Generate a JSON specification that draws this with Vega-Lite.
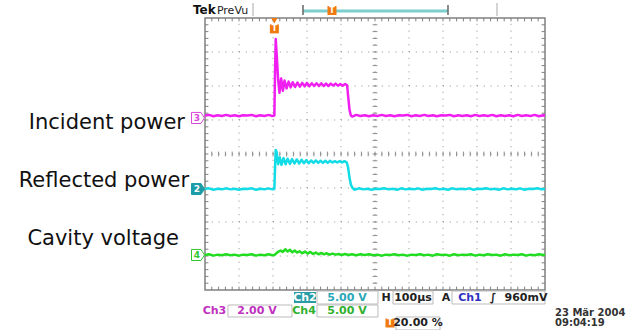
{
  "$schema": "https://vega.github.io/schema/vega-lite/v6.json",
  "width": 340,
  "height": 272,
  "autosize": {"type": "none"},
  "padding": {"left": 205, "top": 18, "right": 90, "bottom": 40},
  "background": "white",
  "config": {"view": {"stroke": "#808080", "strokeWidth": 1.5}, "text": {"font": "DejaVu Sans"}},
  "datasets": {
    "majx": [{"t":1},{"t":2},{"t":3},{"t":4},{"t":5},{"t":6},{"t":7},{"t":8},{"t":9}],
    "majy": [{"v":-3},{"v":-2},{"v":-1},{"v":0},{"v":1},{"v":2},{"v":3}],
    "mx": [{"t":0.2},{"t":0.4},{"t":0.6},{"t":0.8},{"t":1},{"t":1.2},{"t":1.4},{"t":1.6},{"t":1.8},{"t":2},{"t":2.2},{"t":2.4},{"t":2.6},{"t":2.8},{"t":3},{"t":3.2},{"t":3.4},{"t":3.6},{"t":3.8},{"t":4},{"t":4.2},{"t":4.4},{"t":4.6},{"t":4.8},{"t":5},{"t":5.2},{"t":5.4},{"t":5.6},{"t":5.8},{"t":6},{"t":6.2},{"t":6.4},{"t":6.6},{"t":6.8},{"t":7},{"t":7.2},{"t":7.4},{"t":7.6},{"t":7.8},{"t":8},{"t":8.2},{"t":8.4},{"t":8.6},{"t":8.8},{"t":9},{"t":9.2},{"t":9.4},{"t":9.6},{"t":9.8}],
    "my": [{"v":-3.8},{"v":-3.6},{"v":-3.4},{"v":-3.2},{"v":-3},{"v":-2.8},{"v":-2.6},{"v":-2.4},{"v":-2.2},{"v":-2},{"v":-1.8},{"v":-1.6},{"v":-1.4},{"v":-1.2},{"v":-1},{"v":-0.8},{"v":-0.6},{"v":-0.4},{"v":-0.2},{"v":0},{"v":0.2},{"v":0.4},{"v":0.6},{"v":0.8},{"v":1},{"v":1.2},{"v":1.4},{"v":1.6},{"v":1.8},{"v":2},{"v":2.2},{"v":2.4},{"v":2.6},{"v":2.8},{"v":3},{"v":3.2},{"v":3.4},{"v":3.6},{"v":3.8}],
    "trace": [
      {"ch":"I","t":0,"v":1.13},{"ch":"I","t":0.12,"v":1.15},{"ch":"I","t":0.25,"v":1.11},{"ch":"I","t":0.37,"v":1.14},{"ch":"I","t":0.5,"v":1.12},{"ch":"I","t":0.62,"v":1.15},{"ch":"I","t":0.75,"v":1.12},{"ch":"I","t":0.87,"v":1.14},{"ch":"I","t":1.0,"v":1.11},{"ch":"I","t":1.12,"v":1.14},{"ch":"I","t":1.25,"v":1.13},{"ch":"I","t":1.37,"v":1.15},{"ch":"I","t":1.5,"v":1.11},{"ch":"I","t":1.62,"v":1.14},{"ch":"I","t":1.75,"v":1.12},{"ch":"I","t":1.87,"v":1.15},{"ch":"I","t":1.98,"v":1.12},{"ch":"I","t":2.04,"v":1.13},{"ch":"I","t":2.06,"v":2.4},{"ch":"I","t":2.08,"v":3.38},{"ch":"I","t":2.11,"v":2.9},{"ch":"I","t":2.15,"v":2.2},{"ch":"I","t":2.19,"v":1.8},{"ch":"I","t":2.24,"v":2.22},{"ch":"I","t":2.29,"v":1.86},{"ch":"I","t":2.34,"v":2.16},{"ch":"I","t":2.4,"v":1.93},{"ch":"I","t":2.46,"v":2.13},{"ch":"I","t":2.52,"v":1.96},{"ch":"I","t":2.58,"v":2.11},{"ch":"I","t":2.65,"v":1.97},{"ch":"I","t":2.72,"v":2.1},{"ch":"I","t":2.79,"v":1.98},{"ch":"I","t":2.86,"v":2.09},{"ch":"I","t":2.93,"v":1.99},{"ch":"I","t":3.0,"v":2.09},{"ch":"I","t":3.07,"v":1.99},{"ch":"I","t":3.14,"v":2.08},{"ch":"I","t":3.21,"v":2.0},{"ch":"I","t":3.28,"v":2.08},{"ch":"I","t":3.35,"v":2.0},{"ch":"I","t":3.42,"v":2.08},{"ch":"I","t":3.49,"v":2.0},{"ch":"I","t":3.56,"v":2.07},{"ch":"I","t":3.63,"v":2.0},{"ch":"I","t":3.7,"v":2.07},{"ch":"I","t":3.77,"v":2.01},{"ch":"I","t":3.84,"v":2.07},{"ch":"I","t":3.91,"v":2.01},{"ch":"I","t":3.98,"v":2.06},{"ch":"I","t":4.05,"v":2.01},{"ch":"I","t":4.12,"v":2.06},{"ch":"I","t":4.18,"v":2.02},{"ch":"I","t":4.21,"v":1.7},{"ch":"I","t":4.25,"v":1.3},{"ch":"I","t":4.29,"v":1.13},{"ch":"I","t":4.33,"v":1.1},{"ch":"I","t":4.45,"v":1.15},{"ch":"I","t":4.57,"v":1.12},{"ch":"I","t":4.7,"v":1.14},{"ch":"I","t":4.82,"v":1.11},{"ch":"I","t":4.95,"v":1.14},{"ch":"I","t":5.07,"v":1.12},{"ch":"I","t":5.2,"v":1.15},{"ch":"I","t":5.32,"v":1.12},{"ch":"I","t":5.45,"v":1.14},{"ch":"I","t":5.57,"v":1.11},{"ch":"I","t":5.7,"v":1.14},{"ch":"I","t":5.82,"v":1.13},{"ch":"I","t":5.95,"v":1.15},{"ch":"I","t":6.07,"v":1.11},{"ch":"I","t":6.2,"v":1.14},{"ch":"I","t":6.32,"v":1.12},{"ch":"I","t":6.45,"v":1.15},{"ch":"I","t":6.57,"v":1.12},{"ch":"I","t":6.7,"v":1.14},{"ch":"I","t":6.82,"v":1.11},{"ch":"I","t":6.95,"v":1.14},{"ch":"I","t":7.07,"v":1.13},{"ch":"I","t":7.2,"v":1.15},{"ch":"I","t":7.32,"v":1.11},{"ch":"I","t":7.45,"v":1.14},{"ch":"I","t":7.57,"v":1.12},{"ch":"I","t":7.7,"v":1.14},{"ch":"I","t":7.82,"v":1.11},{"ch":"I","t":7.95,"v":1.15},{"ch":"I","t":8.07,"v":1.12},{"ch":"I","t":8.2,"v":1.14},{"ch":"I","t":8.32,"v":1.12},{"ch":"I","t":8.45,"v":1.15},{"ch":"I","t":8.57,"v":1.11},{"ch":"I","t":8.7,"v":1.14},{"ch":"I","t":8.82,"v":1.12},{"ch":"I","t":8.95,"v":1.14},{"ch":"I","t":9.07,"v":1.11},{"ch":"I","t":9.2,"v":1.15},{"ch":"I","t":9.32,"v":1.12},{"ch":"I","t":9.45,"v":1.14},{"ch":"I","t":9.57,"v":1.12},{"ch":"I","t":9.7,"v":1.15},{"ch":"I","t":9.82,"v":1.11},{"ch":"I","t":9.95,"v":1.14},{"ch":"I","t":10,"v":1.13},
      {"ch":"R","t":0,"v":-1.03},{"ch":"R","t":0.12,"v":-1.01},{"ch":"R","t":0.25,"v":-1.05},{"ch":"R","t":0.37,"v":-1.02},{"ch":"R","t":0.5,"v":-1.04},{"ch":"R","t":0.62,"v":-1.01},{"ch":"R","t":0.75,"v":-1.04},{"ch":"R","t":0.87,"v":-1.02},{"ch":"R","t":1.0,"v":-1.05},{"ch":"R","t":1.12,"v":-1.02},{"ch":"R","t":1.25,"v":-1.03},{"ch":"R","t":1.37,"v":-1.01},{"ch":"R","t":1.5,"v":-1.05},{"ch":"R","t":1.62,"v":-1.02},{"ch":"R","t":1.75,"v":-1.04},{"ch":"R","t":1.87,"v":-1.01},{"ch":"R","t":1.98,"v":-1.04},{"ch":"R","t":2.04,"v":-1.03},{"ch":"R","t":2.06,"v":-0.4},{"ch":"R","t":2.08,"v":0.12},{"ch":"R","t":2.11,"v":0.05},{"ch":"R","t":2.15,"v":-0.3},{"ch":"R","t":2.2,"v":-0.1},{"ch":"R","t":2.25,"v":-0.32},{"ch":"R","t":2.31,"v":-0.12},{"ch":"R","t":2.37,"v":-0.3},{"ch":"R","t":2.43,"v":-0.14},{"ch":"R","t":2.5,"v":-0.29},{"ch":"R","t":2.56,"v":-0.15},{"ch":"R","t":2.63,"v":-0.28},{"ch":"R","t":2.7,"v":-0.16},{"ch":"R","t":2.77,"v":-0.28},{"ch":"R","t":2.84,"v":-0.17},{"ch":"R","t":2.91,"v":-0.27},{"ch":"R","t":2.98,"v":-0.18},{"ch":"R","t":3.05,"v":-0.27},{"ch":"R","t":3.12,"v":-0.19},{"ch":"R","t":3.19,"v":-0.26},{"ch":"R","t":3.26,"v":-0.19},{"ch":"R","t":3.33,"v":-0.26},{"ch":"R","t":3.4,"v":-0.2},{"ch":"R","t":3.47,"v":-0.26},{"ch":"R","t":3.54,"v":-0.2},{"ch":"R","t":3.61,"v":-0.26},{"ch":"R","t":3.68,"v":-0.2},{"ch":"R","t":3.75,"v":-0.25},{"ch":"R","t":3.82,"v":-0.21},{"ch":"R","t":3.89,"v":-0.25},{"ch":"R","t":3.96,"v":-0.21},{"ch":"R","t":4.03,"v":-0.25},{"ch":"R","t":4.1,"v":-0.21},{"ch":"R","t":4.17,"v":-0.25},{"ch":"R","t":4.21,"v":-0.4},{"ch":"R","t":4.25,"v":-0.7},{"ch":"R","t":4.29,"v":-0.9},{"ch":"R","t":4.34,"v":-1.0},{"ch":"R","t":4.4,"v":-1.05},{"ch":"R","t":4.52,"v":-1.01},{"ch":"R","t":4.65,"v":-1.04},{"ch":"R","t":4.77,"v":-1.02},{"ch":"R","t":4.9,"v":-1.05},{"ch":"R","t":5.02,"v":-1.02},{"ch":"R","t":5.15,"v":-1.03},{"ch":"R","t":5.27,"v":-1.01},{"ch":"R","t":5.4,"v":-1.04},{"ch":"R","t":5.52,"v":-1.02},{"ch":"R","t":5.65,"v":-1.05},{"ch":"R","t":5.77,"v":-1.01},{"ch":"R","t":5.9,"v":-1.04},{"ch":"R","t":6.02,"v":-1.02},{"ch":"R","t":6.15,"v":-1.04},{"ch":"R","t":6.27,"v":-1.01},{"ch":"R","t":6.4,"v":-1.05},{"ch":"R","t":6.52,"v":-1.02},{"ch":"R","t":6.65,"v":-1.03},{"ch":"R","t":6.77,"v":-1.01},{"ch":"R","t":6.9,"v":-1.04},{"ch":"R","t":7.02,"v":-1.02},{"ch":"R","t":7.15,"v":-1.05},{"ch":"R","t":7.27,"v":-1.01},{"ch":"R","t":7.4,"v":-1.04},{"ch":"R","t":7.52,"v":-1.02},{"ch":"R","t":7.65,"v":-1.04},{"ch":"R","t":7.77,"v":-1.01},{"ch":"R","t":7.9,"v":-1.05},{"ch":"R","t":8.02,"v":-1.02},{"ch":"R","t":8.15,"v":-1.03},{"ch":"R","t":8.27,"v":-1.01},{"ch":"R","t":8.4,"v":-1.04},{"ch":"R","t":8.52,"v":-1.02},{"ch":"R","t":8.65,"v":-1.05},{"ch":"R","t":8.77,"v":-1.01},{"ch":"R","t":8.9,"v":-1.04},{"ch":"R","t":9.02,"v":-1.02},{"ch":"R","t":9.15,"v":-1.04},{"ch":"R","t":9.27,"v":-1.01},{"ch":"R","t":9.4,"v":-1.05},{"ch":"R","t":9.52,"v":-1.02},{"ch":"R","t":9.65,"v":-1.03},{"ch":"R","t":9.77,"v":-1.01},{"ch":"R","t":9.9,"v":-1.04},{"ch":"R","t":10,"v":-1.03},
      {"ch":"C","t":0,"v":-2.97},{"ch":"C","t":0.12,"v":-2.95},{"ch":"C","t":0.25,"v":-2.99},{"ch":"C","t":0.37,"v":-2.96},{"ch":"C","t":0.5,"v":-2.98},{"ch":"C","t":0.62,"v":-2.95},{"ch":"C","t":0.75,"v":-2.98},{"ch":"C","t":0.87,"v":-2.96},{"ch":"C","t":1.0,"v":-2.99},{"ch":"C","t":1.12,"v":-2.96},{"ch":"C","t":1.25,"v":-2.97},{"ch":"C","t":1.37,"v":-2.95},{"ch":"C","t":1.5,"v":-2.99},{"ch":"C","t":1.62,"v":-2.96},{"ch":"C","t":1.75,"v":-2.98},{"ch":"C","t":1.87,"v":-2.95},{"ch":"C","t":1.98,"v":-2.98},{"ch":"C","t":2.04,"v":-2.97},{"ch":"C","t":2.1,"v":-2.92},{"ch":"C","t":2.16,"v":-2.87},{"ch":"C","t":2.22,"v":-2.84},{"ch":"C","t":2.29,"v":-2.88},{"ch":"C","t":2.36,"v":-2.8},{"ch":"C","t":2.43,"v":-2.87},{"ch":"C","t":2.5,"v":-2.82},{"ch":"C","t":2.57,"v":-2.89},{"ch":"C","t":2.64,"v":-2.84},{"ch":"C","t":2.71,"v":-2.9},{"ch":"C","t":2.78,"v":-2.86},{"ch":"C","t":2.86,"v":-2.92},{"ch":"C","t":2.94,"v":-2.87},{"ch":"C","t":3.02,"v":-2.93},{"ch":"C","t":3.1,"v":-2.88},{"ch":"C","t":3.18,"v":-2.94},{"ch":"C","t":3.26,"v":-2.9},{"ch":"C","t":3.34,"v":-2.95},{"ch":"C","t":3.42,"v":-2.91},{"ch":"C","t":3.5,"v":-2.95},{"ch":"C","t":3.58,"v":-2.92},{"ch":"C","t":3.66,"v":-2.96},{"ch":"C","t":3.75,"v":-2.93},{"ch":"C","t":3.84,"v":-2.96},{"ch":"C","t":3.93,"v":-2.94},{"ch":"C","t":4.02,"v":-2.97},{"ch":"C","t":4.12,"v":-2.94},{"ch":"C","t":4.22,"v":-2.97},{"ch":"C","t":4.32,"v":-2.95},{"ch":"C","t":4.45,"v":-2.98},{"ch":"C","t":4.57,"v":-2.95},{"ch":"C","t":4.7,"v":-2.97},{"ch":"C","t":4.82,"v":-2.95},{"ch":"C","t":4.95,"v":-2.98},{"ch":"C","t":5.07,"v":-2.96},{"ch":"C","t":5.2,"v":-2.99},{"ch":"C","t":5.32,"v":-2.96},{"ch":"C","t":5.45,"v":-2.97},{"ch":"C","t":5.57,"v":-2.95},{"ch":"C","t":5.7,"v":-2.98},{"ch":"C","t":5.82,"v":-2.96},{"ch":"C","t":5.95,"v":-2.99},{"ch":"C","t":6.07,"v":-2.96},{"ch":"C","t":6.2,"v":-2.97},{"ch":"C","t":6.32,"v":-2.95},{"ch":"C","t":6.45,"v":-2.98},{"ch":"C","t":6.57,"v":-2.96},{"ch":"C","t":6.7,"v":-2.99},{"ch":"C","t":6.82,"v":-2.95},{"ch":"C","t":6.95,"v":-2.97},{"ch":"C","t":7.07,"v":-2.96},{"ch":"C","t":7.2,"v":-2.99},{"ch":"C","t":7.32,"v":-2.95},{"ch":"C","t":7.45,"v":-2.98},{"ch":"C","t":7.57,"v":-2.96},{"ch":"C","t":7.7,"v":-2.97},{"ch":"C","t":7.82,"v":-2.95},{"ch":"C","t":7.95,"v":-2.99},{"ch":"C","t":8.07,"v":-2.96},{"ch":"C","t":8.2,"v":-2.98},{"ch":"C","t":8.32,"v":-2.95},{"ch":"C","t":8.45,"v":-2.97},{"ch":"C","t":8.57,"v":-2.96},{"ch":"C","t":8.7,"v":-2.99},{"ch":"C","t":8.82,"v":-2.95},{"ch":"C","t":8.95,"v":-2.98},{"ch":"C","t":9.07,"v":-2.96},{"ch":"C","t":9.2,"v":-2.97},{"ch":"C","t":9.32,"v":-2.95},{"ch":"C","t":9.45,"v":-2.99},{"ch":"C","t":9.57,"v":-2.96},{"ch":"C","t":9.7,"v":-2.98},{"ch":"C","t":9.82,"v":-2.95},{"ch":"C","t":9.95,"v":-2.97},{"ch":"C","t":10,"v":-2.96}
    ]
  },
  "layer": [
    {"data": {"name": "majx"}, "mark": {"type": "rule", "color": "#8c8c8c", "strokeWidth": 1, "strokeDash": [1, 5.8]},
     "encoding": {"x": {"field": "t", "type": "quantitative", "axis": null, "scale": {"domain": [0, 10], "nice": false, "zero": false}},
                  "y": {"datum": -4, "type": "quantitative", "axis": null, "scale": {"domain": [-4, 4], "nice": false, "zero": false}}, "y2": {"datum": 4}}},
    {"data": {"name": "majy"}, "mark": {"type": "rule", "color": "#8c8c8c", "strokeWidth": 1, "strokeDash": [1, 5.8]},
     "encoding": {"x": {"datum": 0, "type": "quantitative", "axis": null}, "x2": {"datum": 10}, "y": {"field": "v", "type": "quantitative", "axis": null}}},
    {"data": {"name": "mx"}, "mark": {"type": "rule", "color": "#808080", "strokeWidth": 1},
     "encoding": {"x": {"field": "t", "type": "quantitative", "axis": null}, "y": {"datum": -4, "type": "quantitative", "axis": null}, "y2": {"datum": -3.9}}},
    {"data": {"name": "mx"}, "mark": {"type": "rule", "color": "#808080", "strokeWidth": 1},
     "encoding": {"x": {"field": "t", "type": "quantitative", "axis": null}, "y": {"datum": 4, "type": "quantitative", "axis": null}, "y2": {"datum": 3.9}}},
    {"data": {"name": "my"}, "mark": {"type": "rule", "color": "#808080", "strokeWidth": 1},
     "encoding": {"y": {"field": "v", "type": "quantitative", "axis": null}, "x": {"datum": 0, "type": "quantitative", "axis": null}, "x2": {"datum": 0.1}}},
    {"data": {"name": "my"}, "mark": {"type": "rule", "color": "#808080", "strokeWidth": 1},
     "encoding": {"y": {"field": "v", "type": "quantitative", "axis": null}, "x": {"datum": 10, "type": "quantitative", "axis": null}, "x2": {"datum": 9.9}}},
    {"data": {"name": "mx"}, "mark": {"type": "rule", "color": "#8c8c8c", "strokeWidth": 1},
     "encoding": {"x": {"field": "t", "type": "quantitative", "axis": null}, "y": {"datum": -0.07, "type": "quantitative", "axis": null}, "y2": {"datum": 0.07}}},
    {"data": {"name": "my"}, "mark": {"type": "rule", "color": "#8c8c8c", "strokeWidth": 1},
     "encoding": {"y": {"field": "v", "type": "quantitative", "axis": null}, "x": {"datum": 4.93, "type": "quantitative", "axis": null}, "x2": {"datum": 5.07}}},
    {"data": {"name": "trace"}, "mark": {"type": "line", "strokeWidth": 2.5, "strokeJoin": "round"},
     "encoding": {"x": {"field": "t", "type": "quantitative", "axis": null, "scale": {"domain": [0, 10], "nice": false, "zero": false}},
                  "y": {"field": "v", "type": "quantitative", "axis": null, "scale": {"domain": [-4, 4], "nice": false, "zero": false}},
                  "color": {"field": "ch", "type": "nominal", "scale": {"domain": ["I", "R", "C"], "range": ["#f01ef0", "#12dce6", "#22dc22"]}, "legend": null}}},
    {"data": {"values": [{"t": -0.206, "v": 1.06, "c": "I"}, {"t": -0.206, "v": -2.97, "c": "C"}]}, "mark": {"type": "point", "shape": "M-1,-0.85L0.45,-0.85L1,0L0.45,0.85L-1,0.85Z", "size": 169, "filled": false, "fill": "white", "strokeWidth": 1, "opacity": 1},
     "encoding": {"x": {"field": "t", "type": "quantitative", "axis": null}, "y": {"field": "v", "type": "quantitative", "axis": null},
                  "stroke": {"field": "c", "type": "nominal", "scale": {"domain": ["I", "C"], "range": ["#d848d8", "#30c830"]}, "legend": null}}},
    {"data": {"values": [{"t": -0.206, "v": -1.03}]}, "mark": {"type": "point", "shape": "M-1,-0.85L0.45,-0.85L1,0L0.45,0.85L-1,0.85Z", "size": 169, "filled": true, "fill": "#1c9ca6", "stroke": "#1c9ca6", "strokeWidth": 1, "opacity": 1},
     "encoding": {"x": {"field": "t", "type": "quantitative", "axis": null}, "y": {"field": "v", "type": "quantitative", "axis": null}}},
    {"data": {"values": [{"t": -0.24, "v": 1.06, "label": "3"}]}, "mark": {"type": "text", "fontSize": 9, "fontWeight": "bold", "color": "#d848d8", "align": "center", "baseline": "middle"},
     "encoding": {"x": {"field": "t", "type": "quantitative", "axis": null}, "y": {"field": "v", "type": "quantitative", "axis": null}, "text": {"field": "label"}}},
    {"data": {"values": [{"t": -0.24, "v": -1.03, "label": "2"}]}, "mark": {"type": "text", "fontSize": 9, "fontWeight": "bold", "color": "white", "align": "center", "baseline": "middle"},
     "encoding": {"x": {"field": "t", "type": "quantitative", "axis": null}, "y": {"field": "v", "type": "quantitative", "axis": null}, "text": {"field": "label"}}},
    {"data": {"values": [{"t": -0.24, "v": -2.97, "label": "4"}]}, "mark": {"type": "text", "fontSize": 9, "fontWeight": "bold", "color": "#30c830", "align": "center", "baseline": "middle"},
     "encoding": {"x": {"field": "t", "type": "quantitative", "axis": null}, "y": {"field": "v", "type": "quantitative", "axis": null}, "text": {"field": "label"}}},
    {"data": {"values": [{"t": -0.588, "v": 0.735, "label": "Incident power"}, {"t": -0.47, "v": -0.96, "label": "Reflected power"}, {"t": -0.765, "v": -2.68, "label": "Cavity voltage"}]},
     "mark": {"type": "text", "fontSize": 21, "color": "#111", "align": "right", "baseline": "alphabetic"},
     "encoding": {"x": {"field": "t", "type": "quantitative", "axis": null}, "y": {"field": "v", "type": "quantitative", "axis": null}, "text": {"field": "label"}}},
    {"data": {"values": [{"t": 1.412, "v": 4.441, "v2": 4.059}, {"t": 8.588, "v": 4.441, "v2": 4.059}]}, "mark": {"type": "rule", "color": "#aaaaaa", "strokeWidth": 1},
     "encoding": {"x": {"field": "t", "type": "quantitative", "axis": null}, "y": {"field": "v", "type": "quantitative", "axis": null}, "y2": {"field": "v2"}}},
    {"data": {"values": [{"t": 2.882, "t2": 7.147, "v": 4.206}]}, "mark": {"type": "rule", "color": "#7ccfcf", "strokeWidth": 3},
     "encoding": {"x": {"field": "t", "type": "quantitative", "axis": null}, "x2": {"field": "t2"}, "y": {"field": "v", "type": "quantitative", "axis": null}}},
    {"data": {"values": [{"t": 2.882, "v": 4.382, "v2": 4.088}, {"t": 7.147, "v": 4.382, "v2": 4.088}]}, "mark": {"type": "rule", "color": "#666666", "strokeWidth": 1.5},
     "encoding": {"x": {"field": "t", "type": "quantitative", "axis": null}, "y": {"field": "v", "type": "quantitative", "axis": null}, "y2": {"field": "v2"}}},
    {"data": {"values": [{"t": -0.353, "v": 4.118, "label": "Tek"}]}, "mark": {"type": "text", "fontSize": 12, "fontWeight": "bold", "color": "#111", "align": "left", "baseline": "alphabetic"},
     "encoding": {"x": {"field": "t", "type": "quantitative", "axis": null}, "y": {"field": "v", "type": "quantitative", "axis": null}, "text": {"field": "label"}}},
    {"data": {"values": [{"t": 0.35, "v": 4.118, "label": "PreVu"}]}, "mark": {"type": "text", "fontSize": 11, "color": "#222", "align": "left", "baseline": "alphabetic"},
     "encoding": {"x": {"field": "t", "type": "quantitative", "axis": null}, "y": {"field": "v", "type": "quantitative", "axis": null}, "text": {"field": "label"}}},
    {"data": {"values": [{"t": 2.04, "v": 3.92}]}, "mark": {"type": "point", "shape": "triangle-down", "size": 40, "filled": true, "color": "#f07a10", "opacity": 1},
     "encoding": {"x": {"field": "t", "type": "quantitative", "axis": null}, "y": {"field": "v", "type": "quantitative", "axis": null}}},
    {"data": {"values": [{"t": 2.04, "v": 3.68}, {"t": 3.735, "v": 4.22}, {"t": 5.441, "v": -4.97}]}, "mark": {"type": "point", "shape": "square", "size": 81, "filled": true, "color": "#f07a10", "opacity": 1},
     "encoding": {"x": {"field": "t", "type": "quantitative", "axis": null}, "y": {"field": "v", "type": "quantitative", "axis": null}}},
    {"data": {"values": [{"t": 2.04, "v": 3.68, "label": "T"}, {"t": 3.735, "v": 4.22, "label": "T"}, {"t": 5.441, "v": -4.97, "label": "T"}]}, "mark": {"type": "text", "fontSize": 8, "fontWeight": "bold", "color": "white", "align": "center", "baseline": "middle"},
     "encoding": {"x": {"field": "t", "type": "quantitative", "axis": null}, "y": {"field": "v", "type": "quantitative", "axis": null}, "text": {"field": "label"}}},
    {"data": {"values": [{"t": 3.294, "t2": 5.088, "v": -4.029, "v2": -4.412}, {"t": 5.529, "t2": 6.706, "v": -4.029, "v2": -4.412}, {"t": 7.265, "t2": 10.0, "v": -4.029, "v2": -4.412}, {"t": 0.676, "t2": 2.559, "v": -4.441, "v2": -4.794}, {"t": 3.294, "t2": 5.088, "v": -4.441, "v2": -4.794}, {"t": 5.618, "t2": 6.912, "v": -4.794, "v2": -5.176}]},
     "mark": {"type": "rect", "fill": "white", "fillOpacity": 0, "stroke": "#bbbbbb", "strokeWidth": 1},
     "encoding": {"x": {"field": "t", "type": "quantitative", "axis": null}, "x2": {"field": "t2"}, "y": {"field": "v", "type": "quantitative", "axis": null}, "y2": {"field": "v2"}}},
    {"data": {"values": [{"t": 2.618, "t2": 3.265, "v": -4.059, "v2": -4.382}]}, "mark": {"type": "rect", "fill": "#2a9ca8"},
     "encoding": {"x": {"field": "t", "type": "quantitative", "axis": null}, "x2": {"field": "t2"}, "y": {"field": "v", "type": "quantitative", "axis": null}, "y2": {"field": "v2"}}},
    {"data": {"values": [{"t": 2.941, "v": -4.221, "label": "Ch2"}]}, "mark": {"type": "text", "fontSize": 11, "fontWeight": "bold", "color": "white", "align": "center", "baseline": "middle"},
     "encoding": {"x": {"field": "t", "type": "quantitative", "axis": null}, "y": {"field": "v", "type": "quantitative", "axis": null}, "text": {"field": "label"}}},
    {"data": {"values": [{"t": 4.176, "v": -4.221, "label": "5.00 V"}]}, "mark": {"type": "text", "fontSize": 11, "fontWeight": "bold", "color": "#2aa8b8", "align": "center", "baseline": "middle"},
     "encoding": {"x": {"field": "t", "type": "quantitative", "axis": null}, "y": {"field": "v", "type": "quantitative", "axis": null}, "text": {"field": "label"}}},
    {"data": {"values": [{"t": 5.324, "v": -4.221, "label": "H"}, {"t": 6.118, "v": -4.221, "label": "100µs"}, {"t": 7.088, "v": -4.221, "label": "A"}, {"t": 8.471, "v": -4.221, "label": "∫"}, {"t": 9.441, "v": -4.221, "label": "960mV"}, {"t": 6.265, "v": -4.985, "label": "20.00 %"}]},
     "mark": {"type": "text", "fontSize": 11, "fontWeight": "bold", "color": "#222", "align": "center", "baseline": "middle"},
     "encoding": {"x": {"field": "t", "type": "quantitative", "axis": null}, "y": {"field": "v", "type": "quantitative", "axis": null}, "text": {"field": "label"}}},
    {"data": {"values": [{"t": 7.794, "v": -4.221, "label": "Ch1"}]}, "mark": {"type": "text", "fontSize": 11, "fontWeight": "bold", "color": "#3030c0", "align": "center", "baseline": "middle"},
     "encoding": {"x": {"field": "t", "type": "quantitative", "axis": null}, "y": {"field": "v", "type": "quantitative", "axis": null}, "text": {"field": "label"}}},
    {"data": {"values": [{"t": 0.279, "v": -4.618, "label": "Ch3"}, {"t": 1.529, "v": -4.618, "label": "2.00 V"}]}, "mark": {"type": "text", "fontSize": 11, "fontWeight": "bold", "color": "#c030c0", "align": "center", "baseline": "middle"},
     "encoding": {"x": {"field": "t", "type": "quantitative", "axis": null}, "y": {"field": "v", "type": "quantitative", "axis": null}, "text": {"field": "label"}}},
    {"data": {"values": [{"t": 2.912, "v": -4.618, "label": "Ch4"}, {"t": 4.176, "v": -4.618, "label": "5.00 V"}]}, "mark": {"type": "text", "fontSize": 11, "fontWeight": "bold", "color": "#30b030", "align": "center", "baseline": "middle"},
     "encoding": {"x": {"field": "t", "type": "quantitative", "axis": null}, "y": {"field": "v", "type": "quantitative", "axis": null}, "text": {"field": "label"}}},
    {"data": {"values": [{"t": 10.294, "v": -4.691, "label": "23 Mär 2004"}, {"t": 10.294, "v": -4.985, "label": "09:04:19"}]}, "mark": {"type": "text", "fontSize": 10, "fontWeight": "bold", "color": "#333", "align": "left", "baseline": "middle"},
     "encoding": {"x": {"field": "t", "type": "quantitative", "axis": null}, "y": {"field": "v", "type": "quantitative", "axis": null}, "text": {"field": "label"}}}
  ]
}
